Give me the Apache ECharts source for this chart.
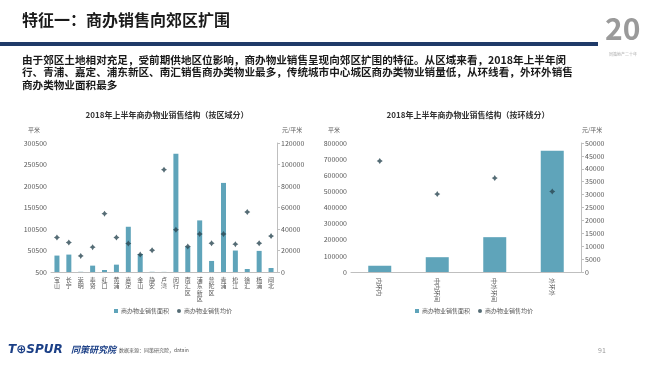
<!DOCTYPE html>
<html><head><meta charset="utf-8">
<script src="https://cdn.jsdelivr.net/npm/echarts@6/dist/echarts.min.js"></script>
<style>html,body{margin:0;padding:0;background:#fff}#c{width:650px;height:365px}</style>
</head><body><div id="c"></div>
<script>
const districts = ['宝山','长宁','崇明','奉贤','虹口','黄浦','嘉定','金山','静安','卢湾','闵行','南汇区','浦东新区','普陀区','青浦','松江','徐汇','杨浦','闸北'];
const districtArea = [38700,41000,1000,15300,5200,17600,105700,42500,1000,800,275500,59700,120500,26200,207700,50400,7500,49600,9800];
const districtPrice = [32100,27500,15000,23100,54300,32100,26500,16200,20300,95200,39300,23700,35300,26800,35300,25900,55800,26800,33400];
const rings = ['内环内','中内环间','中外环间','外环外'];
const ringArea = [38800,91800,216000,752000];
const ringPrice = [43000,30200,36400,31200];
const nameArea = '商办物业销售面积';
const namePrice = '商办物业销售均价';
const FONT = '"Noto Sans CJK SC", "Noto Sans", sans-serif';
const BAR = '#5fa4ba', DOT = '#2b4753', AX = '#595959', LINE = '#bfbfbf';
const star = 'path://M0,-10 L4,-4 L10,0 L4,4 L0,10 L-4,4 L-10,0 L-4,-4 Z';

const chart = echarts.init(document.getElementById('c'));
const yLabel = {fontSize: 7, color: AX, fontFamily: FONT, margin: 4, formatter: v => String(v)};
chart.setOption({
  animation: false,
  textStyle: {fontFamily: FONT},
  grid: [
    {left: 51, right: 373, top: 143, bottom: 93},
    {left: 351, right: 69, top: 143, bottom: 93}
  ],
  xAxis: [
    {type: 'category', gridIndex: 0, data: districts,
     axisLine: {lineStyle: {color: LINE}}, axisTick: {show: false},
     axisLabel: {interval: 0, fontSize: 6, lineHeight: 6.6, color: AX, margin: 4,
       formatter: v => v.split('').join('\n')}},
    {type: 'category', gridIndex: 1, data: rings,
     axisLine: {lineStyle: {color: LINE}}, axisTick: {show: false},
     axisLabel: {interval: 0, fontSize: 6, color: AX, rotate: -90, margin: 6}}
  ],
  yAxis: [
    {type: 'value', gridIndex: 0, min: 500, max: 300500, interval: 50000,
     splitLine: {show: false}, axisLine: {show: false}, axisTick: {show: false}, axisLabel: yLabel},
    {type: 'value', gridIndex: 0, position: 'right', min: 0, max: 120000, interval: 20000,
     splitLine: {show: false}, axisLine: {show: true, lineStyle: {color: LINE}},
     axisTick: {show: true, length: 3, lineStyle: {color: LINE}}, axisLabel: yLabel},
    {type: 'value', gridIndex: 1, min: 0, max: 800000, interval: 100000,
     splitLine: {show: false}, axisLine: {show: false}, axisTick: {show: false}, axisLabel: yLabel},
    {type: 'value', gridIndex: 1, position: 'right', min: 0, max: 50000, interval: 5000,
     splitLine: {show: false}, axisLine: {show: true, lineStyle: {color: LINE}},
     axisTick: {show: true, length: 3, lineStyle: {color: LINE}}, axisLabel: yLabel}
  ],
  legend: [
    {left: 109, top: 303, itemWidth: 4, itemHeight: 4, itemGap: 8,
     textStyle: {fontSize: 6, color: AX, padding: [0,0,0,-2]},
     data: [{name: nameArea, icon: 'rect'}, {name: namePrice, icon: 'circle'}]},
    {left: 410, top: 303, itemWidth: 4, itemHeight: 4, itemGap: 8,
     textStyle: {fontSize: 6, color: AX, padding: [0,0,0,-2]},
     data: [{name: nameArea, icon: 'rect'}, {name: namePrice, icon: 'circle'}]}
  ],
  series: [
    {name: nameArea, type: 'bar', xAxisIndex: 0, yAxisIndex: 0, data: districtArea,
     barWidth: 5, itemStyle: {color: BAR}},
    {name: namePrice, type: 'scatter', xAxisIndex: 0, yAxisIndex: 1, data: districtPrice,
     symbol: star, symbolSize: 6, itemStyle: {color: DOT}},
    {name: nameArea, type: 'bar', xAxisIndex: 1, yAxisIndex: 2, data: ringArea,
     barWidth: 23, itemStyle: {color: BAR}},
    {name: namePrice, type: 'scatter', xAxisIndex: 1, yAxisIndex: 3, data: ringPrice,
     symbol: star, symbolSize: 6, itemStyle: {color: DOT}}
  ],
  graphic: [
    {type: 'text', left: 22, top: 12, style: {text: '特征一：商办销售向郊区扩围', font: 'bold 16px ' + FONT, fill: '#1a1a1a'}},
    {type: 'rect', shape: {x: 0, y: 42, width: 598, height: 4}, style: {fill: '#1f3a68'}},
    {type: 'text', left: 22, top: 54, style: {
      text: '由于郊区土地相对充足，受前期供地区位影响，商办物业销售呈现向郊区扩围的特征。从区域来看，2018年上半年闵\n行、青浦、嘉定、浦东新区、南汇销售商办类物业最多，传统城市中心城区商办类物业销量低，从环线看，外环外销售\n商办类物业面积最多',
      font: 'bold 10.6px ' + FONT, lineHeight: 12.2, fill: '#1a1a1a'}},
    {type: 'text', x: 167, y: 115, style: {text: '2018年上半年商办物业销售结构（按区域分）', font: 'bold 8px ' + FONT, fill: '#333', align: 'center', verticalAlign: 'middle'}},
    {type: 'text', x: 468, y: 115, style: {text: '2018年上半年商办物业销售结构（按环线分）', font: 'bold 8px ' + FONT, fill: '#333', align: 'center', verticalAlign: 'middle'}},
    {type: 'text', x: 28, y: 130, style: {text: '平米', font: '6px ' + FONT, fill: AX, verticalAlign: 'middle'}},
    {type: 'text', x: 282, y: 130, style: {text: '元/平米', font: '6px ' + FONT, fill: AX, verticalAlign: 'middle'}},
    {type: 'text', x: 328, y: 130, style: {text: '平米', font: '6px ' + FONT, fill: AX, verticalAlign: 'middle'}},
    {type: 'text', x: 582, y: 130, style: {text: '元/平米', font: '6px ' + FONT, fill: AX, verticalAlign: 'middle'}},
    {type: 'text', x: 605, y: 14, style: {text: '20', font: 'bold 30px ' + FONT, fill: '#9a9a9a'}},
    {type: 'text', x: 623, y: 52, style: {text: '同策地产二十年', font: '4px ' + FONT, fill: '#aaa', align: 'center'}},
    {type: 'text', x: 8, y: 344, style: {text: 'T⊕SPUR', font: 'italic 900 12px "DejaVu Sans", sans-serif', fill: '#1b3f86'}},
    {type: 'text', x: 71, y: 345, style: {text: '同策研究院', font: 'italic bold 9px ' + FONT, fill: '#1b3f86'}},
    {type: 'text', x: 119, y: 348, style: {text: '数据来源：同策研究院，datain', font: '5px ' + FONT, fill: '#555'}},
    {type: 'text', x: 598, y: 347, style: {text: '91', font: '7px ' + FONT, fill: '#999'}}
  ]
});
</script></body></html>
